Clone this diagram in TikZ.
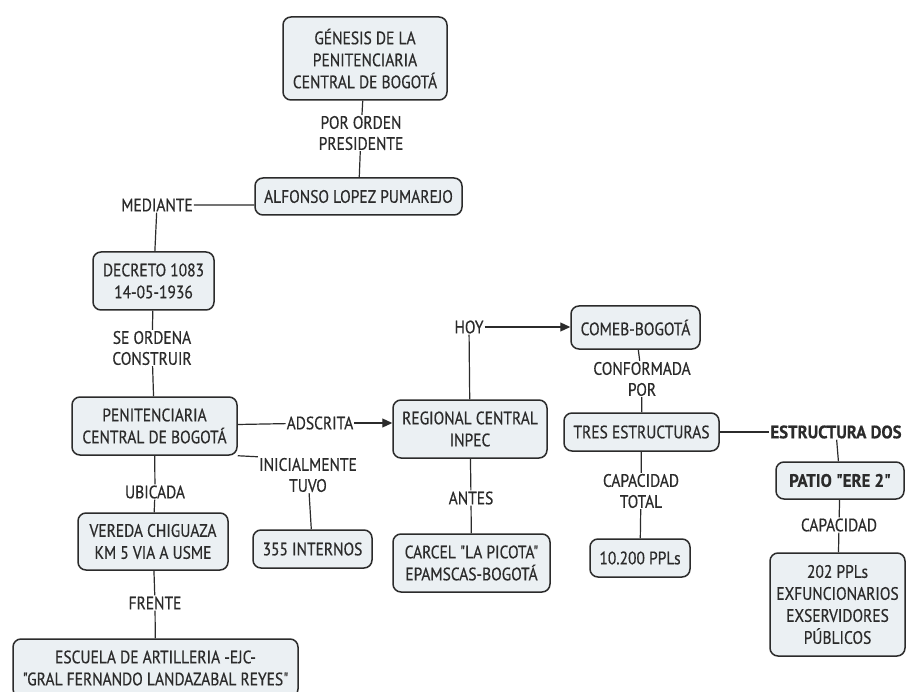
\documentclass[tikz,border=0pt]{standalone}
\usepackage{fontspec}
\setmainfont[FakeStretch=0.86, Ligatures=TeXOff, FakeBold=0.5,
  BoldFont={PT Sans Bold}, BoldFeatures={Ligatures=TeXOff, FakeStretch=0.93}]{PT Sans}
\usetikzlibrary{arrows.meta}
\definecolor{boxfill}{HTML}{EBF0F3}
\definecolor{ink}{HTML}{2B2B2B}
\tikzset{
  cbox/.style={draw=ink, line width=1.5pt, fill=boxfill, rounded corners=8pt,
    align=center, text=ink, inner sep=0pt, font=\fontsize{18}{22}\selectfont},
  lbl/.style={align=center, text=ink, inner sep=1pt, font=\fontsize{18}{21}\selectfont},
  conn/.style={draw=ink, line width=1.2pt},
  arr/.style={conn, -{Triangle[length=10pt,width=9pt]}}
}
\begin{document}
\begin{tikzpicture}[x=1pt,y=-1pt]
\useasboundingbox (0,0) rectangle (907,692);
\clip (0,0) rectangle (907,692);
\fill[white] (0,0) rectangle (907,692);
% boxes
\node[cbox, minimum width=164pt, minimum height=83pt] (gen) at (365,58.5) {GÉNESIS DE LA\\PENITENCIARIA\\CENTRAL DE BOGOTÁ};
\node[cbox, minimum width=207pt, minimum height=37pt] (alf) at (358.5,196.5) {ALFONSO LOPEZ PUMAREJO};
\node[cbox, minimum width=121pt, minimum height=58pt] (dec) at (153.5,281) {DECRETO 1083\\14-05-1936};
\node[cbox, minimum width=165pt, minimum height=58pt] (pen) at (154.5,426) {PENITENCIARIA\\CENTRAL DE BOGOTÁ};
\node[cbox, minimum width=150pt, minimum height=57pt] (ver) at (153,541.5) {VEREDA CHIGUAZA\\KM 5 VIA A USME};
\node[cbox, minimum width=285pt, minimum height=58pt] (esc) at (155.5,668) {ESCUELA DE ARTILLERIA -EJC-\\"GRAL FERNANDO LANDAZABAL REYES"};
\node[cbox, minimum width=119pt, minimum height=38pt] (int) at (312.5,549) {355 INTERNOS};
\node[cbox, minimum width=154pt, minimum height=58pt] (reg) at (470,429) {REGIONAL CENTRAL\\INPEC};
\node[cbox, minimum width=157pt, minimum height=58pt] (car) at (471.5,563) {CARCEL "LA PICOTA"\\EPAMSCAS-BOGOTÁ};
\node[cbox, minimum width=129pt, minimum height=43pt] (com) at (635.5,327.5) {COMEB-BOGOTÁ};
\node[cbox, minimum width=155pt, minimum height=38pt] (tres) at (641.5,432) {TRES ESTRUCTURAS};
\node[cbox, minimum width=100pt, minimum height=38pt] (diez) at (640,558) {10.200 PPLs};
\node[cbox, minimum width=128pt, minimum height=37pt, font=\fontsize{18}{22}\selectfont\bfseries] (patio) at (840,480.5) {PATIO "ERE 2"};
\node[cbox, minimum width=135pt, minimum height=103pt] (ppl) at (837.5,604.5) {202 PPLs\\EXFUNCIONARIOS\\EXSERVIDORES\\PÚBLICOS};
% labels
\node[lbl] (porden) at (361,133) {POR ORDEN\\PRESIDENTE};
\node[lbl] (mediante) at (157,205) {MEDIANTE};
\node[lbl] (seordena) at (152,348) {SE ORDENA\\CONSTRUIR};
\node[lbl] (adscrita) at (320,423) {ADSCRITA};
\node[lbl] (inicial) at (308,475) {INICIALMENTE\\TUVO};
\node[lbl] (ubicada) at (155,492) {UBICADA};
\node[lbl] (frente) at (155,603) {FRENTE};
\node[lbl] (hoy) at (469,327) {HOY};
\node[lbl] (antes) at (471,498) {ANTES};
\node[lbl] (conform) at (642,379) {CONFORMADA\\POR};
\node[lbl] (captot) at (641,491) {CAPACIDAD\\TOTAL};
\node[lbl, font=\fontsize{18}{21}\selectfont\bfseries] (estdos) at (836,432) {ESTRUCTURA DOS};
\node[lbl] (capac) at (839,525) {CAPACIDAD};
% connectors
\draw[conn] (gen) -- (porden) -- (alf);
\draw[conn] (alf.west |- mediante) -- (mediante) -- (dec);
\draw[conn] (dec) -- (seordena) -- (pen);
\draw[conn] (pen) -- (adscrita);
\draw[arr] (adscrita.east) -- (reg.west |- adscrita.east);
\draw[conn] (pen.south east) -- (inicial.north west);
\draw[conn] (inicial) -- (int);
\draw[conn] (pen) -- (ubicada) -- (ver) -- (frente) -- (esc);
\draw[conn] (reg) -- (hoy);
\draw[arr] (hoy.east) -- (com.west |- hoy.east);
\draw[conn] (reg) -- (antes) -- (car);
\draw[conn] (com) -- (conform) -- (tres);
\draw[conn] (tres) -- (captot) -- (diez);
\draw[conn] (tres) -- (estdos);
\draw[conn] (estdos) -- (patio) -- (capac) -- (ppl);
\end{tikzpicture}
\end{document}
